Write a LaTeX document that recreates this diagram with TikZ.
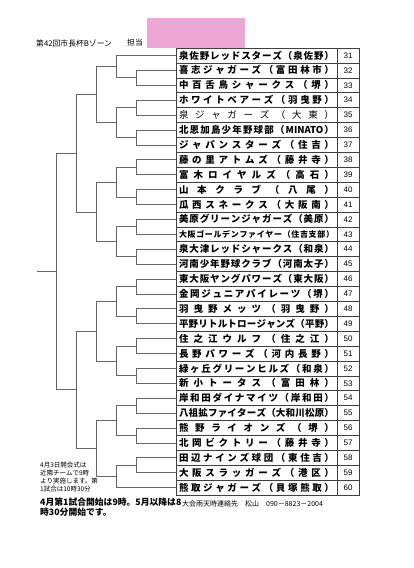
\documentclass[tikz,border=0pt]{standalone}
\usepackage{fontspec}
\newfontfamily\jp{Noto Sans CJK JP}
\newfontfamily\numf{Liberation Sans}
\usetikzlibrary{positioning,calc}
\definecolor{pinkbox}{RGB}{238,166,212}
\tikzset{team/.style={draw=black!75, line width=0.6pt, anchor=north west, outer sep=0pt, inner sep=0pt,
                      minimum width=161pt, minimum height=14.9pt, font=\jp\bfseries\fontsize{9.5}{10}\selectfont},
         num/.style={draw=black!75, line width=0.6pt, outer sep=0pt, inner sep=0pt,
                     minimum width=22pt, minimum height=14.9pt, font=\numf\fontsize{8}{9}\selectfont},
         brk/.style={draw=black!60, line width=0.7pt}}
% spread the letters of a team name over the whole cell
\makeatletter
\def\sp@loop#1#2\@nil{#1\ifx\relax#2\relax\else\hfill\sp@loop#2\@nil\fi}
\newcommand\spreadname[1]{\hbox to 155pt{\sp@loop#1\@nil}}
\makeatother
% one bracket: two entries joined at level #3, the joint is named #4
\newcommand\bjoin[4]{%
  \draw[brk] (#1) -- (#3 |- #1) -- (#3 |- #2) -- (#2);
  \path ($(#1)!.5!(#2)$) coordinate (#4-m) (#3 |- #4-m) coordinate (#4);}

\begin{document}
\begin{tikzpicture}[x=1pt, y=-1pt]
  \useasboundingbox (0,0) rectangle (413,568);

  % ---------- header ----------
  \node[anchor=west, inner sep=0, font=\jp\fontsize{7.8}{9}\selectfont] (ttl) at (36,43) {第42回市長杯Bゾーン};
  \node[anchor=west, inner sep=0, font=\jp\fontsize{7.8}{9}\selectfont] (tan) at (127,43) {担当};
  \node[fill=pinkbox, anchor=north west, inner sep=0, minimum width=98pt, minimum height=30pt] (pink) at (147,18) {};

  % ---------- team table ----------
  \node[team] (t31) at (176,48) {\spreadname{泉佐野レッドスターズ（泉佐野）}};
  \node[team, below=0pt of t31] (t32) {\spreadname{喜志ジャガーズ（富田林市）}};
  \node[team, below=0pt of t32] (t33) {\spreadname{中百舌鳥シャークス（堺）}};
  \node[team, below=0pt of t33] (t34) {\spreadname{ホワイトベアーズ（羽曳野）}};
  \node[team, below=0pt of t34, font=\jp\fontsize{9.5}{10}\selectfont] (t35) {\spreadname{泉ジャガーズ（大東）}};
  \node[team, below=0pt of t35] (t36) {\spreadname{北恩加島少年野球部（{MINATO}）}};
  \node[team, below=0pt of t36] (t37) {\spreadname{ジャパンスターズ（住吉）}};
  \node[team, below=0pt of t37] (t38) {\spreadname{藤の里アトムズ（藤井寺）}};
  \node[team, below=0pt of t38] (t39) {\spreadname{富木ロイヤルズ（高石）}};
  \node[team, below=0pt of t39] (t40) {\spreadname{山本クラブ（八尾）}};
  \node[team, below=0pt of t40] (t41) {\spreadname{瓜西スネークス（大阪南）}};
  \node[team, below=0pt of t41] (t42) {\spreadname{美原グリーンジャガーズ（美原）}};
  \node[team, below=0pt of t42, font=\jp\bfseries\fontsize{8}{9}\selectfont] (t43) {\spreadname{大阪ゴールデンファイヤー（住吉支部）}};
  \node[team, below=0pt of t43] (t44) {\spreadname{泉大津レッドシャークス（和泉）}};
  \node[team, below=0pt of t44] (t45) {\spreadname{河南少年野球クラブ（河南太子）}};
  \node[team, below=0pt of t45] (t46) {\spreadname{東大阪ヤングパワーズ（東大阪）}};
  \node[team, below=0pt of t46] (t47) {\spreadname{金岡ジュニアパイレーツ（堺）}};
  \node[team, below=0pt of t47] (t48) {\spreadname{羽曳野メッツ（羽曳野）}};
  \node[team, below=0pt of t48] (t49) {\spreadname{平野リトルトロージャンズ（平野）}};
  \node[team, below=0pt of t49] (t50) {\spreadname{住之江ウルフ（住之江）}};
  \node[team, below=0pt of t50] (t51) {\spreadname{長野パワーズ（河内長野）}};
  \node[team, below=0pt of t51] (t52) {\spreadname{緑ヶ丘グリーンヒルズ（和泉）}};
  \node[team, below=0pt of t52] (t53) {\spreadname{新小トータス（富田林）}};
  \node[team, below=0pt of t53] (t54) {\spreadname{岸和田ダイナマイツ（岸和田）}};
  \node[team, below=0pt of t54] (t55) {\spreadname{八祖拡ファイターズ（大和川松原）}};
  \node[team, below=0pt of t55] (t56) {\spreadname{熊野ライオンズ（堺）}};
  \node[team, below=0pt of t56] (t57) {\spreadname{北岡ビクトリー（藤井寺）}};
  \node[team, below=0pt of t57] (t58) {\spreadname{田辺ナインズ球団（東住吉）}};
  \node[team, below=0pt of t58] (t59) {\spreadname{大阪スラッガーズ（港区）}};
  \node[team, below=0pt of t59] (t60) {\spreadname{熊取ジャガーズ（貝塚熊取）}};

  \node[num, right=0pt of t31] (n31) {31};  \node[num, right=0pt of t32] (n32) {32};
  \node[num, right=0pt of t33] (n33) {33};  \node[num, right=0pt of t34] (n34) {34};
  \node[num, right=0pt of t35] (n35) {35};  \node[num, right=0pt of t36] (n36) {36};
  \node[num, right=0pt of t37] (n37) {37};  \node[num, right=0pt of t38] (n38) {38};
  \node[num, right=0pt of t39] (n39) {39};  \node[num, right=0pt of t40] (n40) {40};
  \node[num, right=0pt of t41] (n41) {41};  \node[num, right=0pt of t42] (n42) {42};
  \node[num, right=0pt of t43] (n43) {43};  \node[num, right=0pt of t44] (n44) {44};
  \node[num, right=0pt of t45] (n45) {45};  \node[num, right=0pt of t46] (n46) {46};
  \node[num, right=0pt of t47] (n47) {47};  \node[num, right=0pt of t48] (n48) {48};
  \node[num, right=0pt of t49] (n49) {49};  \node[num, right=0pt of t50] (n50) {50};
  \node[num, right=0pt of t51] (n51) {51};  \node[num, right=0pt of t52] (n52) {52};
  \node[num, right=0pt of t53] (n53) {53};  \node[num, right=0pt of t54] (n54) {54};
  \node[num, right=0pt of t55] (n55) {55};  \node[num, right=0pt of t56] (n56) {56};
  \node[num, right=0pt of t57] (n57) {57};  \node[num, right=0pt of t58] (n58) {58};
  \node[num, right=0pt of t59] (n59) {59};  \node[num, right=0pt of t60] (n60) {60};

  % ---------- bracket levels ----------
  \coordinate (c1) at (136,0);
  \coordinate (c2) at (116,0);
  \coordinate (c3) at (96,0);
  \coordinate (c4) at (76,0);
  \coordinate (c5) at (56,0);
  \coordinate (cend) at (37,0);

  % upper half (31-45)
  \bjoin{t32.west}{t33.west}{c1}{a1}
  \bjoin{t31.west}{a1}{c2}{b1}
  \bjoin{t34.west}{t35.west}{c1}{a2}
  \bjoin{t36.west}{t37.west}{c1}{a3}
  \bjoin{a2}{a3}{c2}{b2}
  \bjoin{b1}{b2}{c3}{d1}
  \bjoin{t38.west}{t39.west}{c1}{a4}
  \bjoin{t40.west}{t41.west}{c1}{a5}
  \bjoin{a4}{a5}{c2}{b3}
  \bjoin{t42.west}{t43.west}{c1}{a6}
  \bjoin{t44.west}{t45.west}{c1}{a7}
  \bjoin{a6}{a7}{c2}{b4}
  \bjoin{b3}{b4}{c3}{d2}
  \bjoin{d1}{d2}{c4}{e1}
  % lower half (46-60)
  \bjoin{t46.west}{t47.west}{c1}{a8}
  \bjoin{t48.west}{t49.west}{c1}{a9}
  \bjoin{a8}{a9}{c2}{b5}
  \bjoin{t50.west}{t51.west}{c1}{a10}
  \bjoin{t52.west}{t53.west}{c1}{a11}
  \bjoin{a10}{a11}{c2}{b6}
  \bjoin{b5}{b6}{c3}{d3}
  \bjoin{t54.west}{t55.west}{c1}{a12}
  \bjoin{t56.west}{t57.west}{c1}{a13}
  \bjoin{a12}{a13}{c2}{b7}
  \bjoin{t58.west}{t59.west}{c1}{a14}
  \bjoin{a14}{t60.west}{c2}{b8}
  \bjoin{b7}{b8}{c3}{d4}
  \bjoin{d3}{d4}{c4}{e2}
  % final
  \bjoin{e1}{e2}{c5}{fin}
  \draw[brk] (fin) -- (cend |- fin);

  % ---------- notes ----------
  \node[anchor=north west, align=left, inner sep=0, font=\jp\fontsize{6.5}{8}\selectfont] (note1) at (40,462)
        {4月3日開会式は\\近隣チームで9時\\より実施します。第\\1試合は10時30分};
  \node[anchor=north west, align=left, inner sep=0, font=\jp\bfseries\fontsize{8.8}{10}\selectfont] (note2) at (40,498)
        {4月第1試合開始は9時。5月以降は8\\時30分開始です。};
  \node[anchor=west, inner sep=0, font=\jp\fontsize{7}{8}\selectfont] (tel) at (182,504)
        {大会雨天時連絡先　松山　090－8823－2004};

\end{tikzpicture}
\end{document}
